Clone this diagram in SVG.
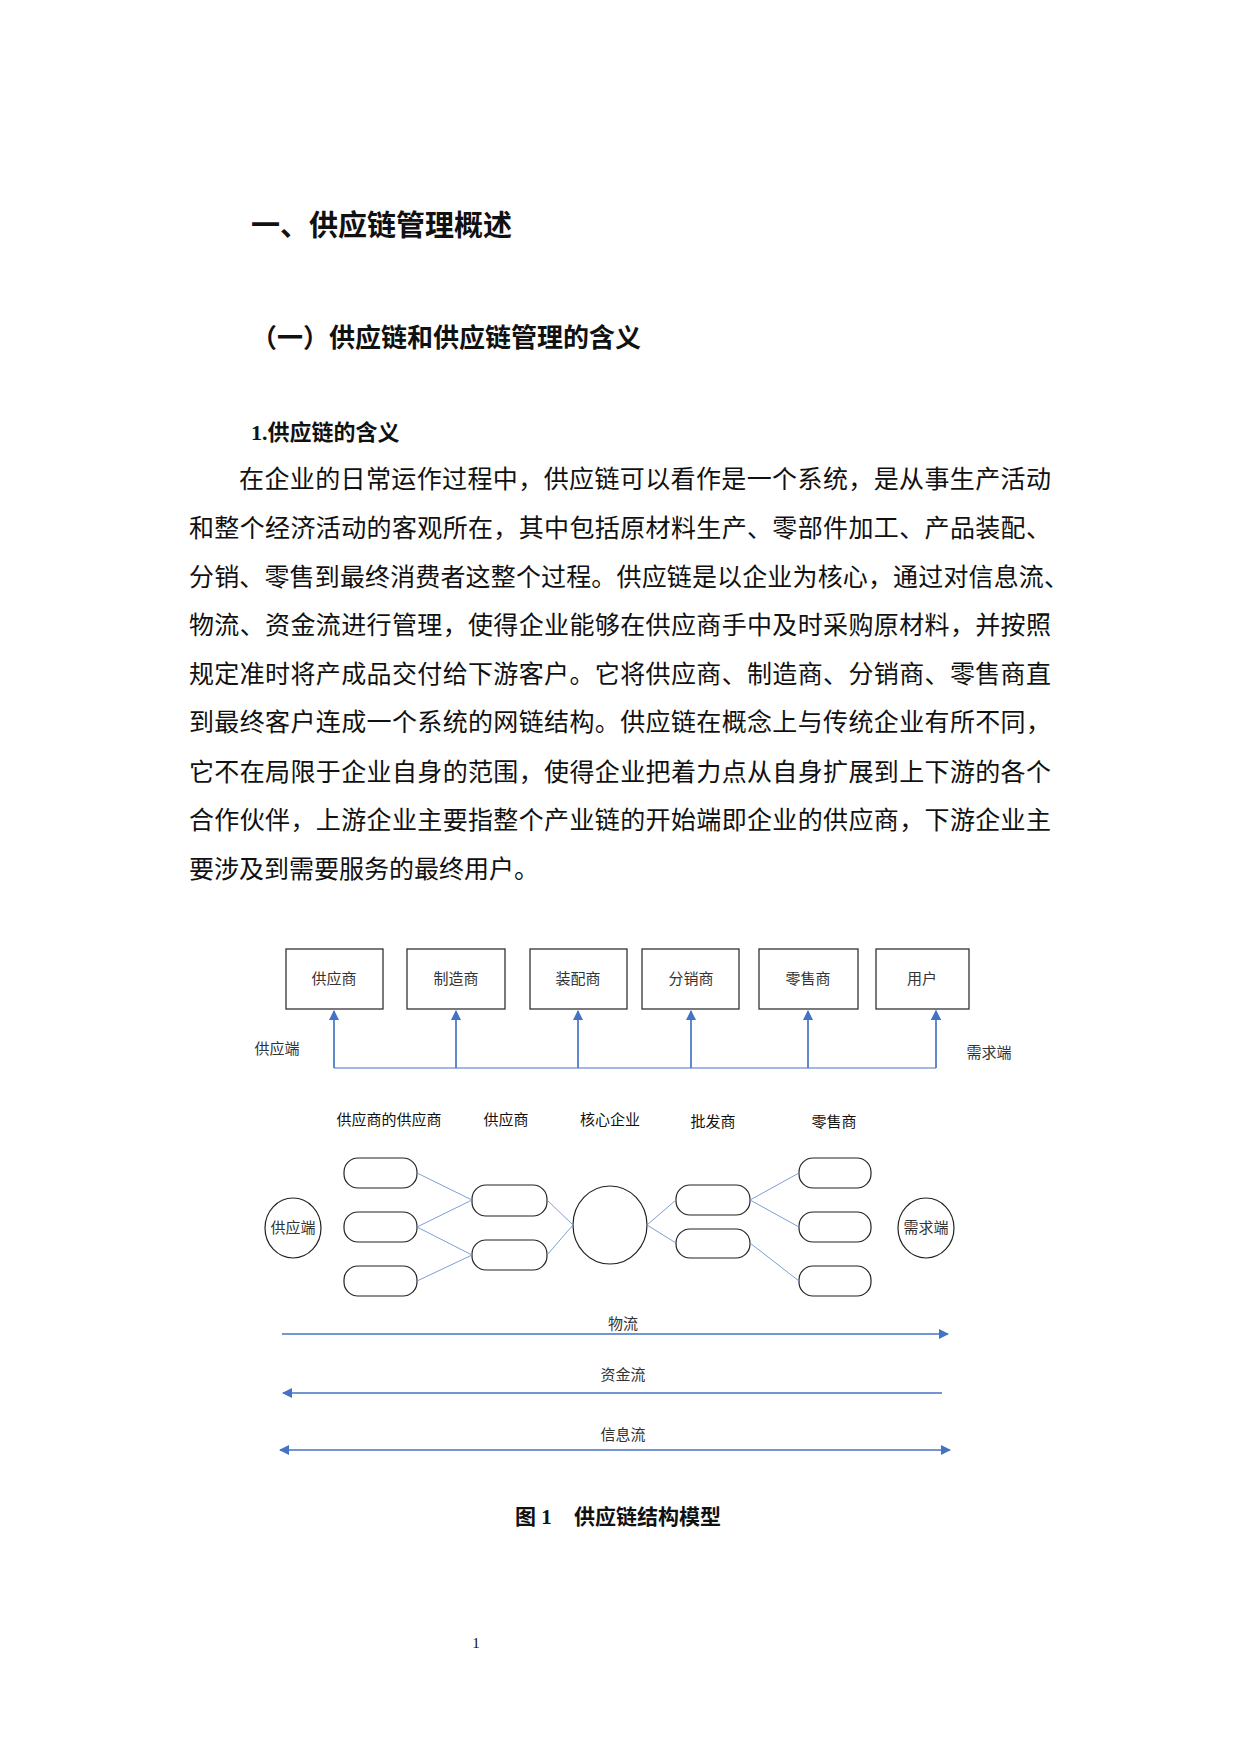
<svg xmlns="http://www.w3.org/2000/svg" width="1240" height="1754" viewBox="0 0 1240 1754">
<style>
text{font-family:"Liberation Serif","Noto Sans CJK SC",serif;fill:#111}
.h{font-weight:bold}
.b{font-size:25px}
.s{font-size:15px;fill:#333;text-anchor:middle}
.box{fill:#fff;stroke:#333;stroke-width:1.3}
.pill{fill:#fff;stroke:#222;stroke-width:1.2}
.ln{stroke:#4472c4;stroke-width:1.2;fill:none}
.thin{stroke:#6f94d0;stroke-width:0.9;fill:none}
.fl{stroke:#4472c4;stroke-width:1.6;fill:none}
</style>
<defs>
<marker id="a" markerWidth="10" markerHeight="10" refX="9" refY="5" orient="auto-start-reverse" markerUnits="userSpaceOnUse"><path d="M0,0 L10,5 L0,10 z" fill="#4472c4"/></marker>
</defs>
<rect width="1240" height="1754" fill="#fff"/>
<text x="251" y="236" class="h" font-size="29">一、供应链管理概述</text>
<text x="251" y="347" class="h" font-size="26">（一）供应链和供应链管理的含义</text>
<text x="251" y="440" class="h" font-size="22">1.供应链的含义</text>
<g class="b">
<text x="239" y="488" textLength="812" lengthAdjust="spacing">在企业的日常运作过程中，供应链可以看作是一个系统，是从事生产活动</text>
<text x="189" y="537" textLength="862" lengthAdjust="spacing">和整个经济活动的客观所在，其中包括原材料生产、零部件加工、产品装配、</text>
<text x="189" y="586" textLength="880" lengthAdjust="spacing">分销、零售到最终消费者这整个过程。供应链是以企业为核心，通过对信息流、</text>
<text x="189" y="634" textLength="862" lengthAdjust="spacing">物流、资金流进行管理，使得企业能够在供应商手中及时采购原材料，并按照</text>
<text x="189" y="683" textLength="862" lengthAdjust="spacing">规定准时将产成品交付给下游客户。它将供应商、制造商、分销商、零售商直</text>
<text x="189" y="731" textLength="862" lengthAdjust="spacing">到最终客户连成一个系统的网链结构。供应链在概念上与传统企业有所不同，</text>
<text x="189" y="781" textLength="862" lengthAdjust="spacing">它不在局限于企业自身的范围，使得企业把着力点从自身扩展到上下游的各个</text>
<text x="189" y="829" textLength="862" lengthAdjust="spacing">合作伙伴，上游企业主要指整个产业链的开始端即企业的供应商，下游企业主</text>
<text x="189" y="878">要涉及到需要服务的最终用户。</text>
</g>
<g id="n1"><rect class="box" x="286" y="949" width="97" height="60"/><text class="s" x="334" y="984">供应商</text></g>
<g id="n2"><rect class="box" x="407" y="949" width="98" height="60"/><text class="s" x="456" y="984">制造商</text></g>
<g id="n3"><rect class="box" x="530" y="949" width="97" height="60"/><text class="s" x="578" y="984">装配商</text></g>
<g id="n4"><rect class="box" x="642" y="949" width="97" height="60"/><text class="s" x="691" y="984">分销商</text></g>
<g id="n5"><rect class="box" x="759" y="949" width="99" height="60"/><text class="s" x="808" y="984">零售商</text></g>
<g id="n6"><rect class="box" x="876" y="949" width="93" height="60"/><text class="s" x="922" y="984">用户</text></g>
<text class="s" x="277" y="1054">供应端</text>
<text class="s" x="989" y="1058">需求端</text>
<g class="s">
<text x="389" y="1125">供应商的供应商</text>
<text x="506" y="1125">供应商</text>
<text x="610" y="1125">核心企业</text>
<text x="713" y="1127">批发商</text>
<text x="834" y="1127">零售商</text>
</g>
<g id="l1"><rect class="pill" x="344" y="1158" width="73" height="30" rx="14"/></g>
<g id="l2"><rect class="pill" x="344" y="1212" width="73" height="30" rx="14"/></g>
<g id="l3"><rect class="pill" x="344" y="1266" width="73" height="30" rx="14"/></g>
<g id="m1"><rect class="pill" x="472" y="1185" width="75" height="31" rx="14"/></g>
<g id="m2"><rect class="pill" x="472" y="1240" width="75" height="30" rx="14"/></g>
<g id="core"><ellipse class="pill" cx="610" cy="1225" rx="37" ry="39"/></g>
<g id="r1"><rect class="pill" x="676" y="1185" width="74" height="30" rx="14"/></g>
<g id="r2"><rect class="pill" x="676" y="1229" width="74" height="29" rx="14"/></g>
<g id="p1"><rect class="pill" x="799" y="1158" width="72" height="30" rx="14"/></g>
<g id="p2"><rect class="pill" x="799" y="1212" width="72" height="30" rx="14"/></g>
<g id="p3"><rect class="pill" x="799" y="1266" width="72" height="30" rx="14"/></g>
<g id="sup"><ellipse class="pill" cx="293" cy="1228" rx="28" ry="30"/><text class="s" x="293" y="1233">供应端</text></g>
<g id="dem"><ellipse class="pill" cx="926" cy="1228" rx="28" ry="30"/><text class="s" x="926" y="1233">需求端</text></g>
<g id="connectors">
<path class="ln" d="M334,1068 V1011 M456,1068 V1011 M578,1068 V1011 M691,1068 V1011 M808,1068 V1011 M936,1068 V1011" marker-end="url(#a)"/>
<line class="ln" x1="334" y1="1011" x2="334" y2="1068" marker-start="url(#a)"/>
<line class="ln" x1="456" y1="1011" x2="456" y2="1068" marker-start="url(#a)"/>
<line class="ln" x1="578" y1="1011" x2="578" y2="1068" marker-start="url(#a)"/>
<line class="ln" x1="691" y1="1011" x2="691" y2="1068" marker-start="url(#a)"/>
<line class="ln" x1="808" y1="1011" x2="808" y2="1068" marker-start="url(#a)"/>
<line class="ln" x1="936" y1="1011" x2="936" y2="1068" marker-start="url(#a)"/>
<line class="ln" x1="334" y1="1068" x2="936" y2="1068" stroke="#8aa8dc" stroke-width="2"/>
<path class="thin" d="M417,1173 L472,1200 M417,1227 L472,1200 M417,1227 L472,1255 M417,1281 L472,1255 M547,1200 L573,1225 M547,1255 L573,1225 M647,1225 L676,1200 M647,1225 L676,1243 M750,1200 L799,1173 M750,1200 L799,1227 M750,1243 L799,1281"/>
<line class="fl" x1="282" y1="1334" x2="948" y2="1334" marker-end="url(#a)"/>
<line class="fl" x1="283" y1="1393" x2="942" y2="1393" marker-start="url(#a)"/>
<line class="fl" x1="280" y1="1450" x2="950" y2="1450" marker-start="url(#a)" marker-end="url(#a)"/>
</g>
<text class="s" x="623" y="1329">物流</text>
<text class="s" x="623" y="1380">资金流</text>
<text class="s" x="623" y="1440">信息流</text>
<text x="515" y="1524" class="h" font-size="21">图 1</text>
<text x="574" y="1524" class="h" font-size="21">供应链结构模型</text>
<text x="476" y="1648" font-size="15" text-anchor="middle" font-family="Liberation Sans,sans-serif">1</text>
</svg>
